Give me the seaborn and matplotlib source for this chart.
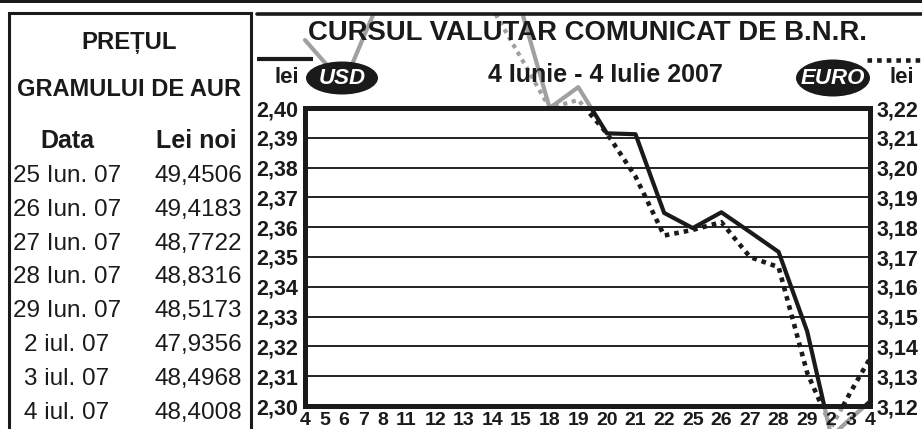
import numpy as np
import pandas as pd
import matplotlib
matplotlib.use("Agg")
import matplotlib.pyplot as plt
import seaborn as sns
from matplotlib import font_manager
from matplotlib.patches import Rectangle, Ellipse
from matplotlib.lines import Line2D
from matplotlib.transforms import Bbox, TransformedBbox

# ---------------- data ----------------
days = ["4", "5", "6", "7", "8", "11", "12", "13", "14", "15", "18", "19",
        "20", "21", "22", "25", "26", "27", "28", "29", "2", "3", "4"]
usd = [2.4228, 2.4154, 2.4080, 2.4235, 2.4386, 2.4450, 2.4520, 2.4480, 2.4460,
       2.4333, 2.4000, 2.4070, 2.3915, 2.3912, 2.3648, 2.3597, 2.3650, 2.3584,
       2.3517, 2.3250, 2.2898, 2.2958, 2.3015]
euro = [3.2720, 3.2680, 3.2660, 3.2740, 3.2810, 3.2840, 3.2790, 3.2700, 3.2533,
        3.2368, 3.2200, 3.2227, 3.2115, 3.1970, 3.1772, 3.1791, 3.1817, 3.1700,
        3.1666, 3.1311, 3.1128, 3.1247, 3.1360]
usd_ticks = [2.30, 2.31, 2.32, 2.33, 2.34, 2.35, 2.36, 2.37, 2.38, 2.39, 2.40]
euro_ticks = [3.12, 3.13, 3.14, 3.15, 3.16, 3.17, 3.18, 3.19, 3.20, 3.21, 3.22]

gold_dates = ["25 Iun. 07", "26 Iun. 07", "27 Iun. 07", "28 Iun. 07",
              "29 Iun. 07", "2 iul. 07", "3 iul. 07", "4 iul. 07"]
gold_prices = ["49,4506", "49,4183", "48,7722", "48,8316",
               "48,5173", "47,9356", "48,4968", "48,4008"]

# ---------------- style ----------------
sns.set_theme(style="white")
plt.rcParams['font.family'] = ['Liberation Sans', 'DejaVu Sans']
names = {f.name for f in font_manager.fontManager.ttflist}
NARROW = 'Liberation Sans Narrow' if 'Liberation Sans Narrow' in names else 'Liberation Sans'

INK = '#1a1a1a'
GRAY = '#a0a0a0'
DOTS = (0, (1, 1.1))

W, H = 922, 429
fig = plt.figure(figsize=(W / 100, H / 100), dpi=100)


def fx(px):
    return px / W


def fy(py):
    return 1 - py / H


# x positions follow the width of the day labels (as typeset in the original)
xpos = [0.0]
for a, b in zip(days[:-1], days[1:]):
    xpos.append(xpos[-1] + 1.1 + (len(a) + len(b)) / 2)
# a new week starts where the day numbers jump
week_starts = [xpos[i] for i in range(1, len(days)) if int(days[i]) != int(days[i - 1]) + 1]

df = pd.DataFrame({"x": xpos, "usd": usd, "euro": euro})

rect = [fx(305), fy(406), (870 - 305) / W, (406 - 108) / H]
panel_clip = TransformedBbox(Bbox.from_extents(fx(257), 0, 1, fy(14)), fig.transFigure)

# gray copies of the lines, visible only outside the plotting area
gx = fig.add_axes(rect, zorder=-2)
gx2 = fig.add_axes(rect, zorder=-2)
for g, col, lo, hi, ls in [(gx, "usd", 2.30, 2.40, '-'), (gx2, "euro", 3.12, 3.22, DOTS)]:
    sns.lineplot(data=df, x="x", y=col, ax=g, color=GRAY, linewidth=3.0,
                 linestyle=ls, sort=False)
    g.lines[-1].set_clip_box(panel_clip)
    g.set_xlim(xpos[0], xpos[-1])
    g.set_ylim(lo, hi)
    g.set_axis_off()

# main axes
ax = fig.add_axes(rect)
ax.set_facecolor('white')
ax2 = ax.twinx()

sns.lineplot(data=df, x="x", y="usd", ax=ax, color=INK, linewidth=3.0, sort=False)
sns.lineplot(data=df, x="x", y="euro", ax=ax2, color=INK, linewidth=3.3,
             linestyle=DOTS, sort=False)

ax.set_xlim(xpos[0], xpos[-1])
ax.set_ylim(2.30, 2.40)
ax2.set_ylim(3.12, 3.22)

fmt = lambda v: f"{v:.2f}".replace(".", ",")
ax.set_yticks(usd_ticks, [fmt(v) for v in usd_ticks], fontsize=15.5, fontweight='bold')
ax2.set_yticks(euro_ticks, [fmt(v) for v in euro_ticks], fontsize=15.5, fontweight='bold')
ax.set_xticks(xpos, days, fontsize=14, fontweight='bold')
ax.set_xticks(week_starts, minor=True)

ax.tick_params(axis='both', which='both', length=0, colors=INK)
ax.tick_params(axis='y', pad=5)
ax.tick_params(axis='x', pad=4)
ax2.tick_params(axis='y', length=0, pad=5, colors=INK)

ax.grid(False)
ax.grid(axis='y', which='major', color='#222222', linewidth=1.4)
ax.grid(axis='x', which='minor', color='#222222', linewidth=1.4)
ax2.grid(False)

for s in ax.spines.values():
    s.set_visible(True)
    s.set_color(INK)
    s.set_linewidth(3.6)
for s in ax2.spines.values():
    s.set_visible(False)

for a in (ax, ax2):
    a.set_xlabel("")
    a.set_ylabel("")

# ---------------- frame ----------------
fig.add_artist(Rectangle((0, fy(3)), 1, 3 / H, transform=fig.transFigure,
                         color=INK, lw=0))
fig.add_artist(Rectangle((fx(8.5), -0.05), fx(250.5) - fx(8.5), fy(13.5) + 0.05,
                         transform=fig.transFigure, fill=False, ec=INK, lw=2.2))
fig.add_artist(Line2D([fx(257), 1], [fy(13.5), fy(13.5)], transform=fig.transFigure,
                      color=INK, lw=2.6))

# legend keys
fig.add_artist(Line2D([fx(257), fx(313)], [fy(59), fy(59)], transform=fig.transFigure,
                      color=INK, lw=3.0, solid_capstyle='butt'))
fig.add_artist(Line2D([fx(867), 1], [fy(60), fy(60)], transform=fig.transFigure,
                      color=INK, lw=3.3, linestyle=DOTS))

# badges
fig.add_artist(Ellipse((fx(342), fy(78)), 72 / W, 33 / H, transform=fig.transFigure,
                       color=INK, lw=0))
fig.text(fx(342), fy(78), "USD", color='white', fontsize=16, fontweight='bold',
         fontstyle='italic', family=NARROW, ha='center', va='center')
fig.add_artist(Ellipse((fx(833), fy(78)), 74 / W, 37 / H, transform=fig.transFigure,
                       color=INK, lw=0))
fig.text(fx(833), fy(78), "EURO", color='white', fontsize=16, fontweight='bold',
         fontstyle='italic', family=NARROW, ha='center', va='center')

# titles
fig.text(fx(587), fy(40), "CURSUL VALUTAR COMUNICAT DE B.N.R.", ha='center',
         va='baseline', fontsize=19.8, fontweight='bold', color=INK)
fig.text(fx(605), fy(82), "4 Iunie - 4 Iulie 2007", ha='center', va='baseline',
         fontsize=18, fontweight='bold', color=INK)
fig.text(fx(287), fy(83), "lei", ha='center', va='baseline', fontsize=16,
         fontweight='bold', color=INK)
fig.text(fx(902), fy(83), "lei", ha='center', va='baseline', fontsize=16,
         fontweight='bold', color=INK)

# ---------------- gold price table ----------------
fig.text(fx(129), fy(49), "PREȚUL", ha='center', va='baseline', fontsize=17.2,
         fontweight='bold', color=INK)
fig.text(fx(129), fy(96), "GRAMULUI DE AUR", ha='center', va='baseline', fontsize=17.0,
         fontweight='bold', color=INK)
fig.text(fx(67), fy(148), "Data", ha='center', va='baseline', fontsize=18,
         fontweight='bold', color=INK)
fig.text(fx(196), fy(148), "Lei noi", ha='center', va='baseline', fontsize=18,
         fontweight='bold', color=INK)
for i, (d, p) in enumerate(zip(gold_dates, gold_prices)):
    yb = 182 + 33.8 * i
    fig.text(fx(67), fy(yb), d, ha='center', va='baseline', fontsize=17.5, color=INK)
    fig.text(fx(242), fy(yb), p, ha='right', va='baseline', fontsize=17.5, color=INK)

fig.savefig("out.png", dpi=100)
